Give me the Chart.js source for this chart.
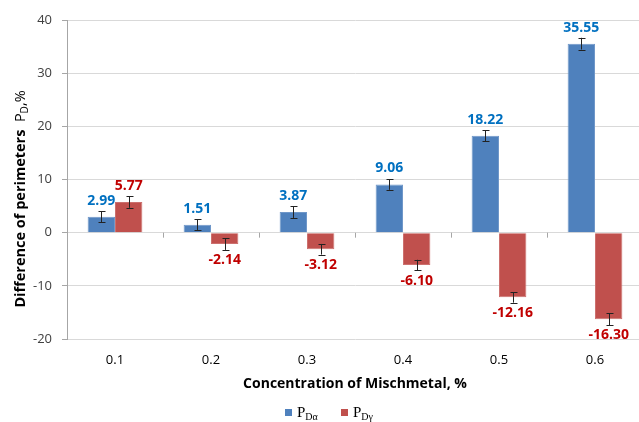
<!DOCTYPE html>
<html>
<head>
<meta charset="utf-8">
<script src="https://cdn.jsdelivr.net/npm/chart.js@4"></script>
<style>
  html, body { margin: 0; padding: 0; background: #fff; overflow: hidden; }
  #wrap { width: 650px; height: 422px; }
</style>
</head>
<body>
<div id="wrap"><canvas id="myChart" width="650" height="422"></canvas></div>
<script>
// data
var categories = ['0.1', '0.2', '0.3', '0.4', '0.5', '0.6'];
var alphaValues = [2.99, 1.51, 3.87, 9.06, 18.22, 35.55];
var gammaValues = [5.77, -2.14, -3.12, -6.10, -12.16, -16.30];
var alphaErrors = [1.0, 1.0, 1.1, 1.0, 1.0, 1.1];
var gammaErrors = [1.1, 1.1, 1.0, 1.0, 1.0, 1.1];
var yTicks = [-20, -10, 0, 10, 20, 30, 40];
var seriesNames = ['α', 'γ'];

var FONT = '"Open Sans", "Liberation Sans", sans-serif';

// error bars, value labels, zero-line ticks, y title and legend
var extras = {
  id: 'extras',
  afterDatasetsDraw: function (chart) {
    var ctx = chart.ctx;
    var y = chart.scales.y;
    var x = chart.scales.x;
    var y0 = y.getPixelForValue(0);

    // little tick marks on the zero line between categories
    ctx.save();
    ctx.strokeStyle = '#A6A6A6';
    ctx.lineWidth = 1;
    for (var i = 1; i < categories.length; i++) {
      var bx = Math.round((x.getPixelForTick(i - 1) + x.getPixelForTick(i)) / 2) + 0.5;
      ctx.beginPath();
      ctx.moveTo(bx, y0);
      ctx.lineTo(bx, y0 + 5);
      ctx.stroke();
    }
    ctx.restore();

    var errs = [alphaErrors, gammaErrors];
    var labelColors = ['#0070C0', '#C00000'];
    chart.data.datasets.forEach(function (ds, di) {
      var meta = chart.getDatasetMeta(di);
      meta.data.forEach(function (bar, i) {
        var v = ds.data[i];
        var e = errs[di][i];
        var top = y.getPixelForValue(v + e);
        var bot = y.getPixelForValue(v - e);
        var cx = Math.round(bar.x) + 0.5;
        ctx.save();
        ctx.strokeStyle = '#222';
        ctx.lineWidth = 1;
        ctx.beginPath();
        ctx.moveTo(cx, top); ctx.lineTo(cx, bot);
        ctx.moveTo(cx - 3, Math.round(top) + 0.5); ctx.lineTo(cx + 4, Math.round(top) + 0.5);
        ctx.moveTo(cx - 3, Math.round(bot) + 0.5); ctx.lineTo(cx + 4, Math.round(bot) + 0.5);
        ctx.stroke();

        ctx.fillStyle = labelColors[di];
        ctx.font = 'bold 14px ' + FONT;
        ctx.textAlign = 'center';
        ctx.textBaseline = 'middle';
        var ly = v >= 0 ? y.getPixelForValue(v) - 16 : y.getPixelForValue(v) + 16;
        ctx.fillText(v.toFixed(2), bar.x, ly);
        ctx.restore();
      });
    });
  },
  afterDraw: function (chart) {
    var ctx = chart.ctx;
    // y axis title with subscript
    ctx.save();
    ctx.translate(21, 199);
    ctx.rotate(-Math.PI / 2);
    ctx.fillStyle = '#000';
    ctx.textBaseline = 'middle';
    ctx.textAlign = 'left';
    var main = 'Difference of perimeters  ';
    ctx.font = 'bold 14.5px ' + FONT;
    var w1 = ctx.measureText(main).width;
    ctx.font = '14.5px ' + FONT;
    var w2 = ctx.measureText('P').width;
    ctx.font = '10px ' + FONT;
    var w3 = ctx.measureText('D').width;
    ctx.font = '14.5px ' + FONT;
    var w4 = ctx.measureText(',%').width;
    var start = -(w1 + w2 + w3 + w4) / 2;
    ctx.font = 'bold 14.5px ' + FONT;
    ctx.fillText(main, start, 0);
    ctx.font = '14.5px ' + FONT;
    ctx.fillText('P', start + w1, 0);
    ctx.font = '10px ' + FONT;
    ctx.fillText('D', start + w1 + w2, 4);
    ctx.font = '14.5px ' + FONT;
    ctx.fillText(',%', start + w1 + w2 + w3, 0);
    ctx.restore();

    // legend
    var colors = ['#4F81BD', '#C0504D'];
    var lx = [285, 341];
    ctx.save();
    ctx.textBaseline = 'alphabetic';
    ctx.textAlign = 'left';
    for (var k = 0; k < 2; k++) {
      ctx.fillStyle = colors[k];
      ctx.fillRect(lx[k], 409, 7, 7);
      ctx.fillStyle = '#000';
      ctx.font = '15px "Liberation Serif", serif';
      ctx.fillText('P', lx[k] + 12, 417);
      var pw = ctx.measureText('P').width;
      ctx.font = '10px "Liberation Serif", serif';
      ctx.fillText('D' + seriesNames[k], lx[k] + 12 + pw, 420);
    }
    ctx.restore();
  }
};

var ctx = document.getElementById('myChart');
var chart = new Chart(ctx, {
  type: 'bar',
  data: {
    labels: categories,
    datasets: [{
      label: 'PDα',
      data: alphaValues,
      backgroundColor: '#4F81BD',
      borderColor: '#6F97C9',
      borderWidth: 1,
      categoryPercentage: 0.57,
      barPercentage: 1.0
    }, {
      label: 'PDγ',
      data: gammaValues,
      backgroundColor: '#C0504D',
      borderColor: '#CC706E',
      borderWidth: 1,
      categoryPercentage: 0.57,
      barPercentage: 1.0
    }]
  },
  options: {
    responsive: false,
    animation: false,
    layout: { padding: { top: 20, right: 7, left: 0, bottom: 30 } },
    plugins: {
      legend: { display: false },
      tooltip: { enabled: false }
    },
    scales: {
      x: {
        grid: { display: false },
        border: { display: false },
        ticks: { color: '#000', font: { family: FONT, size: 13 }, padding: 5 },
        title: {
          display: true,
          text: 'Concentration of Mischmetal, %',
          color: '#000',
          font: { family: FONT, size: 14, weight: 'bold' },
          padding: { top: 4, bottom: 0 }
        },
        afterFit: function (scale) { scale.height = 53; }
      },
      y: {
        min: -20,
        max: 40,
        afterBuildTicks: function (scale) {
          scale.ticks = yTicks.map(function (v) { return { value: v }; });
        },
        grid: {
          color: '#D9D9D9',
          tickLength: 5,
          tickColor: '#A6A6A6'
        },
        border: { color: '#A6A6A6' },
        ticks: { color: '#404040', font: { family: FONT, size: 13 }, padding: 10 },
        afterFit: function (scale) { scale.width = 67; }
      }
    }
  },
  plugins: [extras]
});
</script>
</body>
</html>
